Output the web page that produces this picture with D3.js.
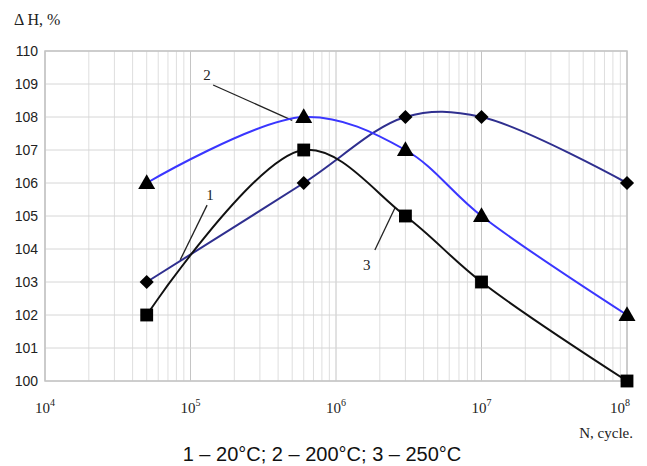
<!DOCTYPE html>
<html>
<head>
<meta charset="utf-8">
<script src="https://cdn.jsdelivr.net/npm/d3@7"></script>
<style>
  html, body { margin: 0; padding: 0; background: #fff; overflow: hidden; }
  svg { display: block; }
</style>
</head>
<body>
<div id="chart"></div>
<script>
// Data
const cycles = [5e4, 6e5, 3e6, 1e7, 1e8];
const series1 = [103, 106, 108, 108, 106];   // 20°C, diamonds
const series2 = [106, 108, 107, 105, 102];   // 200°C, triangles
const series3 = [102, 107, 105, 103, 100];   // 250°C, squares
const xTickExps = [4, 5, 6, 7, 8];
const yTicks = [100, 101, 102, 103, 104, 105, 106, 107, 108, 109, 110];
const captionText = "1 – 20°C; 2 – 200°C; 3 – 250°C";

const width = 647, height = 466;
const margin = { top: 51, left: 45 };
const innerWidth = 627 - margin.left;
const innerHeight = 381 - margin.top;

const svg = d3.select("#chart").append("svg")
    .attr("width", width)
    .attr("height", height);

const g = svg.append("g")
    .attr("transform", `translate(${margin.left},${margin.top})`);

// Scales
const xScale = d3.scaleLog().domain([1e4, 1e8]).range([0, innerWidth]);
const yScale = d3.scaleLinear().domain([100, 110]).range([innerHeight, 0]);

// Grid: minor log lines in x, integer lines in y
const xGrid = [];
for (let e = 4; e < 8; e++) {
    for (let m = 1; m <= 9; m++) xGrid.push(m * Math.pow(10, e));
}
xGrid.push(1e8);

g.selectAll(".vgrid").data(xGrid).enter().append("line")
    .attr("x1", d => xScale(d)).attr("x2", d => xScale(d))
    .attr("y1", 0).attr("y2", innerHeight)
    .attr("stroke", d => Math.abs(Math.log10(d) % 1) < 1e-9 ? "#c4c4c4" : "#dedede")
    .attr("stroke-width", 1);

g.selectAll(".hgrid").data(yTicks).enter().append("line")
    .attr("x1", 0).attr("x2", innerWidth)
    .attr("y1", d => yScale(d)).attr("y2", d => yScale(d))
    .attr("stroke", "#d6d6d6")
    .attr("stroke-width", 1);

// Plot frame
g.append("rect")
    .attr("width", innerWidth).attr("height", innerHeight)
    .attr("fill", "none").attr("stroke", "#c4c4c4").attr("stroke-width", 1.5);

// Y axis labels
const yAxis = d3.axisLeft(yScale).tickValues(yTicks).tickSize(0).tickPadding(7);
const yAxisGroup = g.append("g").call(yAxis);
yAxisGroup.select(".domain").remove();
yAxisGroup.selectAll("text")
    .style("font-family", "Liberation Sans, Arial, sans-serif")
    .style("font-size", "14px")
    .style("fill", "#222");

// X axis labels (10 with superscript)
const xLabels = g.selectAll(".xlab").data(xTickExps).enter().append("text")
    .attr("x", d => xScale(Math.pow(10, d)) - (d === 8 ? 7 : 0))
    .attr("y", innerHeight + 32)
    .attr("text-anchor", "middle")
    .style("font-family", "Liberation Serif, Times New Roman, serif")
    .style("font-size", "15px")
    .style("fill", "#222");
xLabels.append("tspan").text("10");
xLabels.append("tspan").attr("dy", -7).style("font-size", "10px").text(d => d);

// Axis titles
svg.append("text")
    .attr("x", 14).attr("y", 25)
    .style("font-family", "Liberation Serif, Times New Roman, serif")
    .style("font-size", "16px")
    .style("fill", "#222")
    .text("Δ H, %");

svg.append("text")
    .attr("x", 633).attr("y", 438)
    .attr("text-anchor", "end")
    .style("font-family", "Liberation Serif, Times New Roman, serif")
    .style("font-size", "15px")
    .style("fill", "#222")
    .text("N, cycle.");

svg.append("text")
    .attr("x", 322).attr("y", 461)
    .attr("text-anchor", "middle")
    .style("font-family", "Liberation Sans, Arial, sans-serif")
    .style("font-size", "20px")
    .style("fill", "#111")
    .text(captionText);

// Lines
const lineGen = d3.line()
    .x((d, i) => xScale(cycles[i]))
    .y(d => yScale(d))
    .curve(d3.curveCatmullRom.alpha(0.5));

const lines = [
    { id: "s1", color: "#2f2f8f", data: series1, symbol: d3.symbolSquare, size: 100, rot: 45 },
    { id: "s2", color: "#3a36ff", data: series2, symbol: d3.symbolTriangle, size: 125, rot: 0 },
    { id: "s3", color: "#111111", data: series3, symbol: d3.symbolSquare, size: 165, rot: 0 }
];

// Annotation leaders (in data coordinates)
const annotations = [
    { label: "1", tx: 1.36e5, ty: 105.48, x1: 1.30e5, y1: 105.33, x2: 8.5e4, y2: 103.67 },
    { label: "2", tx: 1.30e5, ty: 109.12, x1: 1.43e5, y1: 108.97, x2: 5.0e5, y2: 107.9 },
    { label: "3", tx: 1.63e6, ty: 103.36, x1: 1.85e6, y1: 103.97, x2: 2.54e6, y2: 105.24 }
];

annotations.forEach(a => {
    g.append("line")
        .attr("x1", xScale(a.x1)).attr("y1", yScale(a.y1))
        .attr("x2", xScale(a.x2)).attr("y2", yScale(a.y2))
        .attr("stroke", "#222").attr("stroke-width", 1.3);
    g.append("text")
        .attr("x", xScale(a.tx)).attr("y", yScale(a.ty))
        .attr("text-anchor", "middle")
        .style("font-family", "Liberation Serif, Times New Roman, serif")
        .style("font-size", "15px")
        .style("fill", "#222")
        .text(a.label);
});

lines.forEach(line => {
    g.append("path")
        .datum(line.data)
        .attr("fill", "none")
        .attr("stroke", line.color)
        .attr("stroke-width", 2)
        .attr("d", lineGen);
});

lines.forEach(line => {
    const sym = d3.symbol().type(line.symbol).size(line.size);
    g.selectAll(".pt-" + line.id).data(line.data).enter().append("path")
        .attr("d", sym)
        .attr("transform", (d, i) => `translate(${xScale(cycles[i])},${yScale(d) + (line.symbol === d3.symbolTriangle ? 1 : 0)}) rotate(${line.rot})`)
        .attr("fill", "#000");
});
</script>
</body>
</html>
